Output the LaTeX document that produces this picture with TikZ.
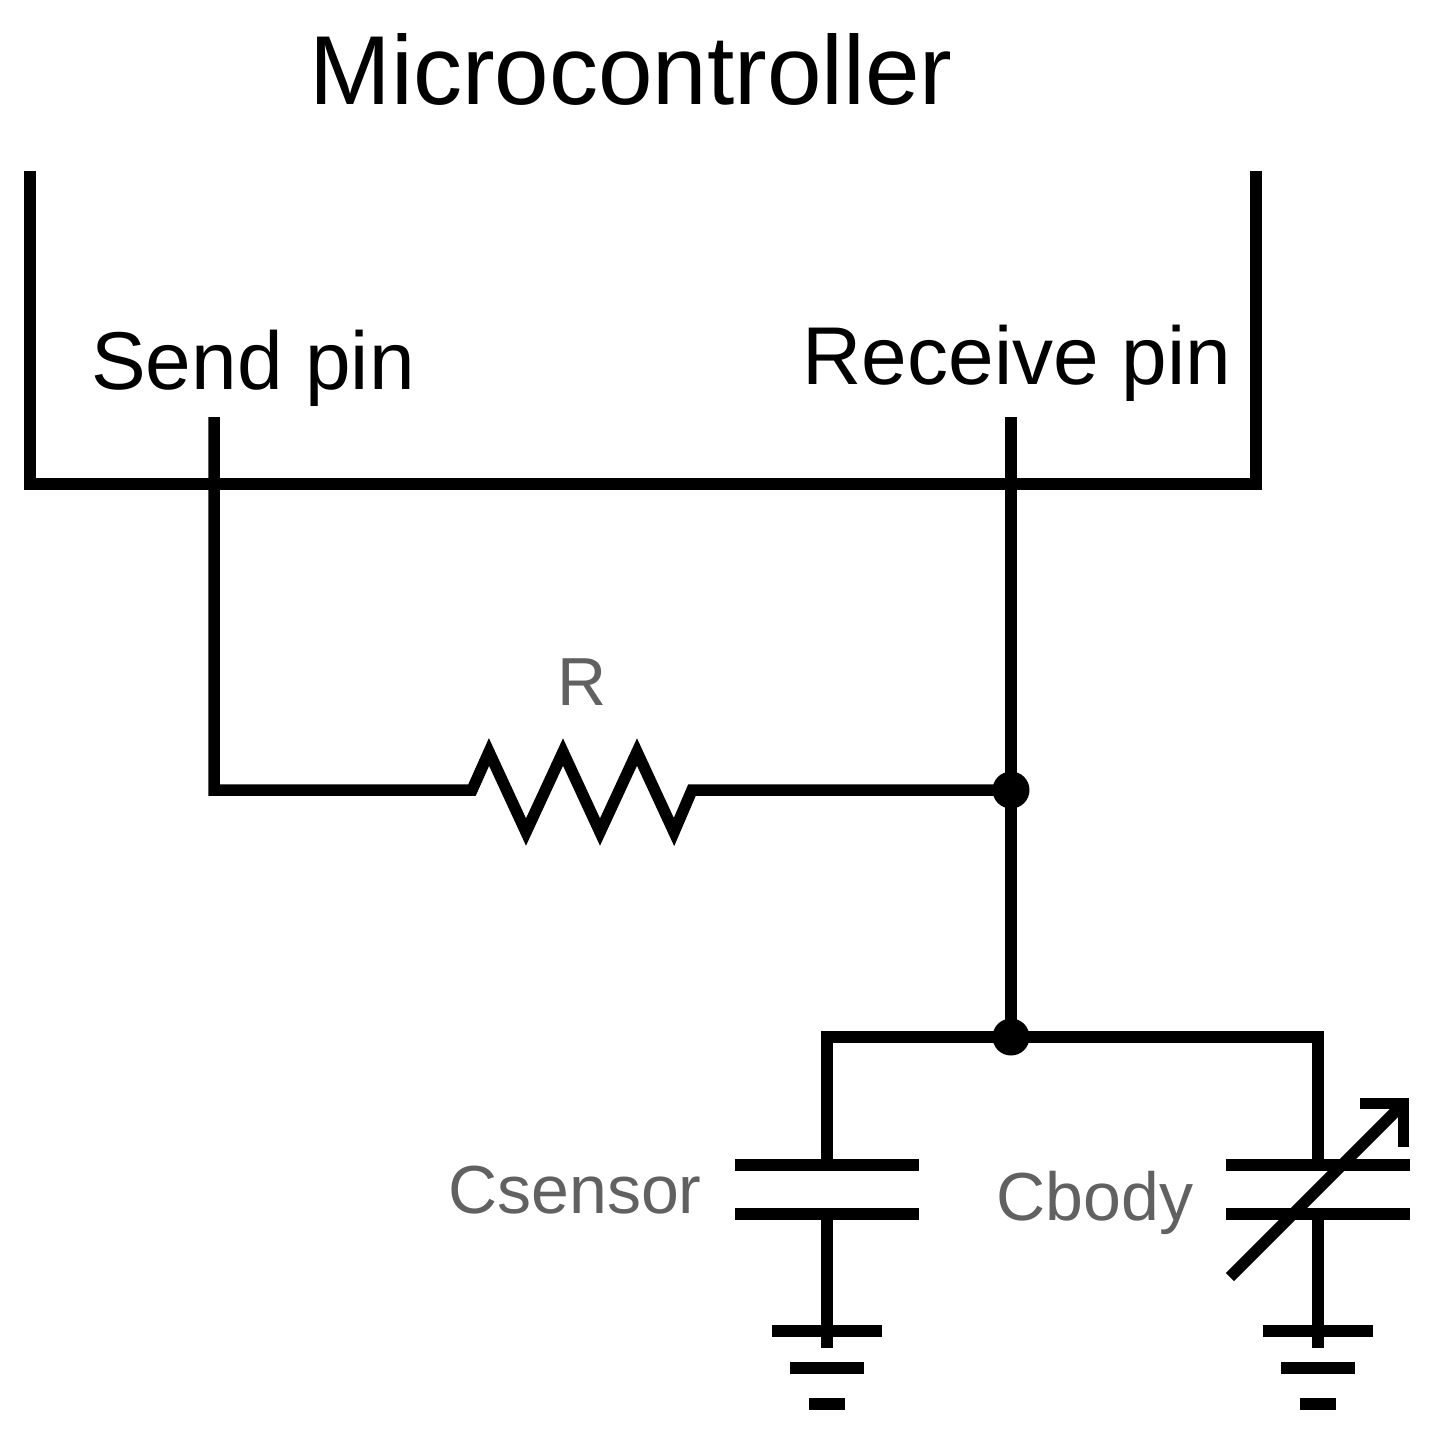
\documentclass[tikz,border=0pt]{standalone}
\usepackage{fontspec}
\setmainfont{Liberation Sans}
\begin{document}
\begin{tikzpicture}[x=1pt,y=-1pt,
  wire/.style={line width=11.5pt,line join=miter,line cap=butt,black},
  dot/.style={circle,fill=black,inner sep=0pt,minimum size=37pt},
  big/.style={font=\fontsize{98}{98}\selectfont,text=black,inner sep=0pt},
  lbl/.style={font=\fontsize{82}{82}\selectfont,text=black,inner sep=0pt},
  comp/.style={font=\fontsize{68}{68}\selectfont,text=black!62,inner sep=0pt}]
\useasboundingbox (0,0) rectangle (1432,1436);
\node[big] (title) at (631,69) {Microcontroller};
\node[lbl] (send) at (253,368) {Send pin};
\node[lbl] (recv) at (1017,363) {Receive pin};
\node[comp] (rl) at (582,682) {R};
\node[comp] (cs) at (575,1190) {Csensor};
\node[comp] (cb) at (1095,1203) {Cbody};
% chip outline
\coordinate (tl) at (30,171);
\coordinate (bl) at (30,484);
\coordinate (br) at (1256,484);
\coordinate (tr) at (1256,171);
\draw[wire] (tl) -- (bl) -- (br) -- (tr);
% pins
\coordinate (sp) at (214,417);
\coordinate (rp) at (1011,417);
\coordinate (sc) at (214,790);
\node[dot] (j1) at (1011,790) {};
\node[dot] (j2) at (1011,1037) {};
\coordinate (ra) at (472,790);
\coordinate (rb) at (692,790);
\draw[wire] (sp) -- (sc) -- (ra)
  -- ++(17,-38) -- ++(37,80) -- ++(37,-80) -- ++(37,80) -- ++(37,-80) -- ++(37,80) -- (rb) -- (j1.center);
\draw[wire] (rp) -- (j1.center) -- (j2.center);
% capacitors
\coordinate (c1t) at (827,1037);
\coordinate (c2t) at (1318,1037);
\coordinate (c1a) at (827,1165);
\coordinate (c1b) at (827,1214);
\coordinate (c2a) at (1318,1165);
\coordinate (c2b) at (1318,1214);
\coordinate (g1) at (827,1331);
\coordinate (g2) at (1318,1331);
\coordinate (s1) at (827,1348);
\coordinate (s2) at (1318,1348);
\draw[wire] (c1a) -- (c1t) -- (c2t) -- (c2a);
\draw[wire] (c1b) -- (s1);
\draw[wire] (c2b) -- (s2);
\foreach \p in {c1a,c1b,c2a,c2b}{\draw[wire] ([xshift=-92pt]\p) -- ([xshift=92pt]\p);}
\foreach \p in {g1,g2}{
  \draw[wire] ([xshift=-55pt]\p) -- ([xshift=55pt]\p);
  \draw[wire] ([xshift=-37pt,yshift=-37pt]\p) -- ([xshift=37pt,yshift=-37pt]\p);
  \draw[wire] ([xshift=-18pt,yshift=-73pt]\p) -- ([xshift=18pt,yshift=-73pt]\p);
}
% variable capacitor arrow
\coordinate (v1) at (1230,1277);
\coordinate (v2) at (1403.5,1103.5);
\coordinate (v3) at (1403.5,1147);
\coordinate (v4) at (1360,1103.5);
\draw[wire] (v1) -- (v2);
\draw[wire] (v4) -- (v2) -- (v3);
\end{tikzpicture}
\end{document}
